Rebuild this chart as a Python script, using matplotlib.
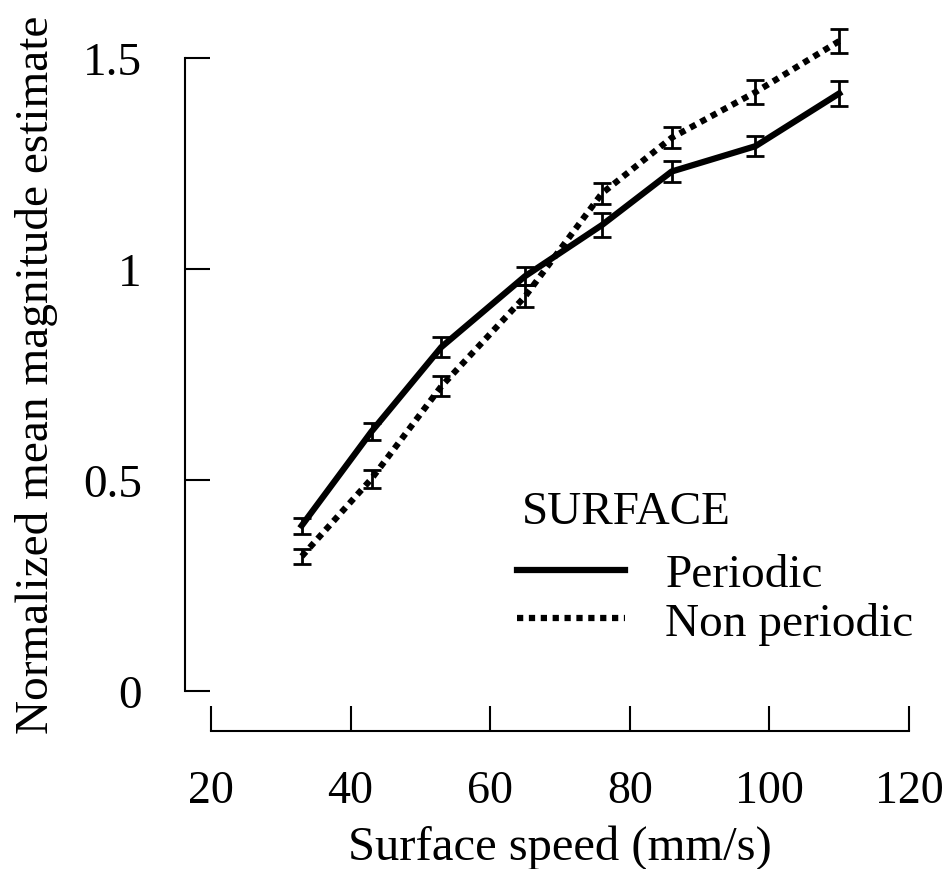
import matplotlib
matplotlib.use("Agg")
import matplotlib.pyplot as plt
from matplotlib.lines import Line2D

plt.rcParams['font.family'] = ['Liberation Serif', 'DejaVu Serif']

speed = [33, 43, 53, 65, 76, 86, 98, 110]
periodic = [0.392, 0.615, 0.815, 0.983, 1.104, 1.231, 1.291, 1.416]
periodic_err = [0.019, 0.021, 0.023, 0.021, 0.028, 0.025, 0.024, 0.030]
nonperiodic = [0.319, 0.503, 0.722, 0.935, 1.179, 1.311, 1.419, 1.540]
nonperiodic_err = [0.018, 0.021, 0.024, 0.026, 0.025, 0.025, 0.028, 0.029]

fig = plt.figure(figsize=(9.45, 8.7), dpi=100)
ax = fig.add_axes([0.2233, 0.2046, 0.7386, 0.7276])

dots = (0, (1, 0.9))
ax.errorbar(speed, periodic, yerr=periodic_err, color='black', lw=4.5,
            elinewidth=2, capsize=6.2, capthick=2, clip_on=False)
ax.errorbar(speed, nonperiodic, yerr=nonperiodic_err, color='black', lw=4.5,
            linestyle=dots, elinewidth=2, capsize=6.2, capthick=2, clip_on=False)

ax.set_xlim(20, 120)
ax.set_ylim(0, 1.5)
ax.set_xticks([20, 40, 60, 80, 100, 120])
ax.set_yticks([0, 0.5, 1, 1.5])
ax.set_yticklabels(['0', '0.5', '1', '1.5'])

for s in ['top', 'right']:
    ax.spines[s].set_visible(False)
ax.spines['left'].set_position(('outward', 18.7))
ax.spines['bottom'].set_position(('outward', 28.8))
for s in ['left', 'bottom']:
    ax.spines[s].set_linewidth(1.5)

ax.tick_params(axis='x', direction='in', length=18, width=1.5, labelsize=33, pad=28)
ax.tick_params(axis='y', direction='in', length=18, width=1.5, labelsize=34, pad=31)

ax.set_xlabel('Surface speed (mm/s)', fontsize=35)
ax.xaxis.set_label_coords(0.5, -0.21)
ax.set_ylabel('Normalized mean magnitude estimate', fontsize=34)
ax.yaxis.set_label_coords(-0.219, 0.501)

ax.text(0.445, 0.283, 'SURFACE', transform=ax.transAxes, fontsize=34,
        ha='left', va='center')
handles = [Line2D([], [], color='black', lw=4.5),
           Line2D([], [], color='black', lw=4.5, linestyle=dots)]
ax.legend(handles, ['Periodic', 'Non periodic'],
          loc='upper left', bbox_to_anchor=(0.438, 0.218), frameon=False,
          fontsize=34, borderpad=0, borderaxespad=0,
          handlelength=2.3, handletextpad=0.85, labelspacing=0.12)

fig.savefig('out.png', dpi=100)
